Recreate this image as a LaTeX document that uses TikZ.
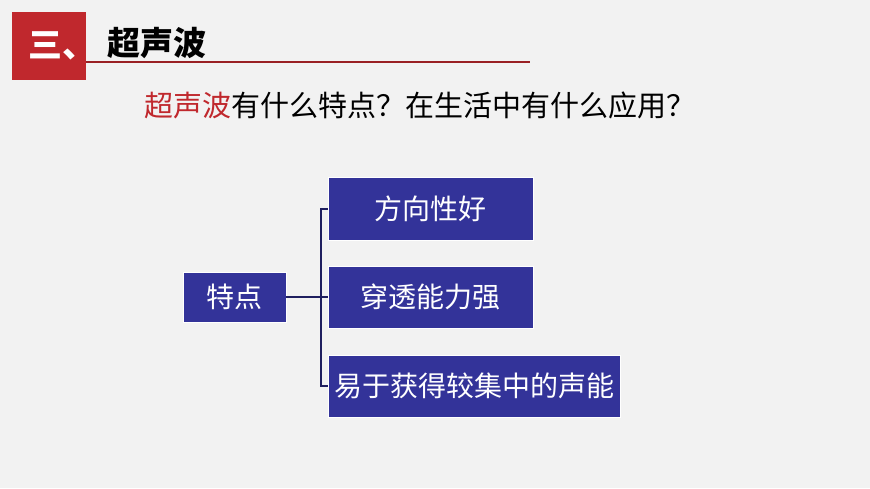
\documentclass[tikz,border=0pt]{standalone}
\usepackage{fontspec}
\newfontfamily\cjk{Noto Sans CJK SC}
\definecolor{bg}{HTML}{F2F2F2}
\definecolor{boxc}{HTML}{333399}
\definecolor{redc}{HTML}{C0282D}
\definecolor{linec}{HTML}{1F1F5F}
\begin{document}
\begin{tikzpicture}[x=1pt,y=-1pt,
  bx/.style={fill=boxc,draw=white,line width=0.6pt,text=white,font=\cjk\fontsize{28}{28}\selectfont,inner sep=0pt},
  conn/.style={draw=linec,line width=2pt}]
\fill[bg] (0,0) rectangle (870,488);
\useasboundingbox (0,0) rectangle (870,488);
\fill[redc] (12,12) rectangle (86,80);
\draw[redc!80!black,line width=2pt] (86,62) -- (530,62);
\node[text=white,font=\cjk\bfseries\fontsize{34}{34}\selectfont,anchor=west,inner sep=0pt] (num) at (28,46) {三、};
\node[font=\cjk\bfseries\fontsize{33}{33}\selectfont,anchor=west,inner sep=0pt] (title) at (107,43) {超声波};
\node[font=\cjk\fontsize{29}{29}\selectfont,anchor=west,inner sep=0pt] (q) at (144,105) {\textcolor{redc}{超声波}有什么特点？在生活中有什么应用？};
\node[bx,minimum width=103,minimum height=50] (a) at (234.5,297) {特点};
\node[bx,minimum width=205,minimum height=63] (b1) at (430.5,208.5) {方向性好};
\node[bx,minimum width=205,minimum height=62] (b2) at (430.5,297) {穿透能力强};
\node[bx,minimum width=292,minimum height=62] (b3) at (474,386) {易于获得较集中的声能};
\coordinate (j) at (321,297);
\draw[conn] (a.east) -- (j);
\draw[conn] (b1.west) -| (j) |- (b3.west);
\draw[conn] (j) -- (b2.west);
\end{tikzpicture}
\end{document}
